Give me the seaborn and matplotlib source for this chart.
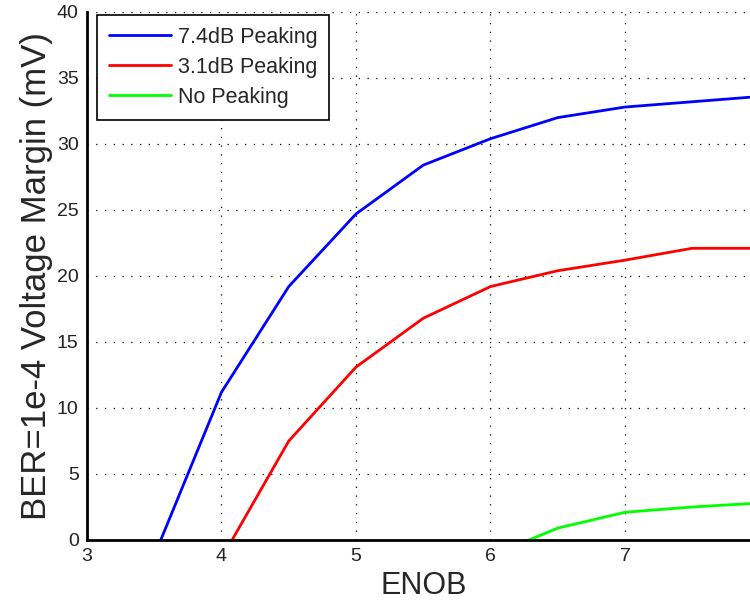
import matplotlib
matplotlib.use("Agg")
import matplotlib.pyplot as plt
import seaborn as sns
import pandas as pd

# ENOB sweep points
enob = [3.5, 4.0, 4.5, 5.0, 5.5, 6.0, 6.5, 7.0, 7.5, 8.0]

# BER=1e-4 voltage margin (mV) per equalizer setting
margin_74db = [-1.2, 11.2, 19.2, 24.7, 28.4, 30.4, 32.0, 32.8, 33.2, 33.6]
margin_31db = [None, -1.4, 7.5, 13.1, 16.8, 19.2, 20.4, 21.2, 22.1, 22.1]
margin_none = [None, None, None, None, None, -1.2, 0.9, 2.1, 2.5, 2.8]

series_names = ["7.4dB Peaking", "3.1dB Peaking", "No Peaking"]
series_colors = ["#0000ff", "#ff0000", "#00ff00"]

x_ticks = [3, 4, 5, 6, 7, 8]
x_tick_labels = ["3", "4", "5", "6", "7", ""]

rows = []
for name, vals in zip(series_names, [margin_74db, margin_31db, margin_none]):
    for x, y in zip(enob, vals):
        if y is not None:
            rows.append({"ENOB": x, "Margin": y, "Series": name})
df = pd.DataFrame(rows)

sns.set_theme(style="white")
plt.rcParams["font.family"] = ["Liberation Sans", "DejaVu Sans"]

fig = plt.figure(figsize=(7.5, 6.04), dpi=100)
ax = fig.add_axes([87 / 750, 1 - 540 / 604, (759.5 - 87) / 750, (540 - 12) / 604])

sns.lineplot(data=df, x="ENOB", y="Margin", hue="Series", hue_order=series_names,
             palette=series_colors, linewidth=2, ax=ax, sort=False,
             estimator=None)

ax.set_xlim(3, 8)
ax.set_ylim(0, 40)
ax.set_xticks(x_ticks)
ax.set_xticklabels(x_tick_labels)
ax.set_yticks(range(0, 41, 5))

ax.grid(True, color="black", linestyle=(0, (1, 6)), linewidth=0.9)
ax.set_axisbelow(True)

for side in ["top", "right"]:
    ax.spines[side].set_visible(False)
for side in ["left", "bottom"]:
    ax.spines[side].set_color("black")
    ax.spines[side].set_linewidth(2)

ax.tick_params(axis="both", direction="in", length=6, width=2, colors="black",
               labelsize=14, pad=6)
for lab in ax.get_xticklabels() + ax.get_yticklabels():
    lab.set_color("#222222")

ax.set_xlabel("ENOB", fontsize=22, labelpad=4)
ax.set_ylabel("BER=1e-4 Voltage Margin (mV)", fontsize=25, labelpad=3)

leg = ax.legend(loc="upper left", bbox_to_anchor=(97 / 750, 1 - 15 / 604),
                bbox_transform=fig.transFigure, borderaxespad=0, fontsize=15.5,
                handlelength=2.9, handletextpad=0.3, labelspacing=0.42,
                frameon=True, fancybox=False, borderpad=0.55)
leg.get_frame().set_edgecolor("black")
leg.get_frame().set_linewidth(1.2)
leg.get_frame().set_facecolor("white")
leg.get_frame().set_alpha(1)

fig.savefig("out.png", dpi=100)
